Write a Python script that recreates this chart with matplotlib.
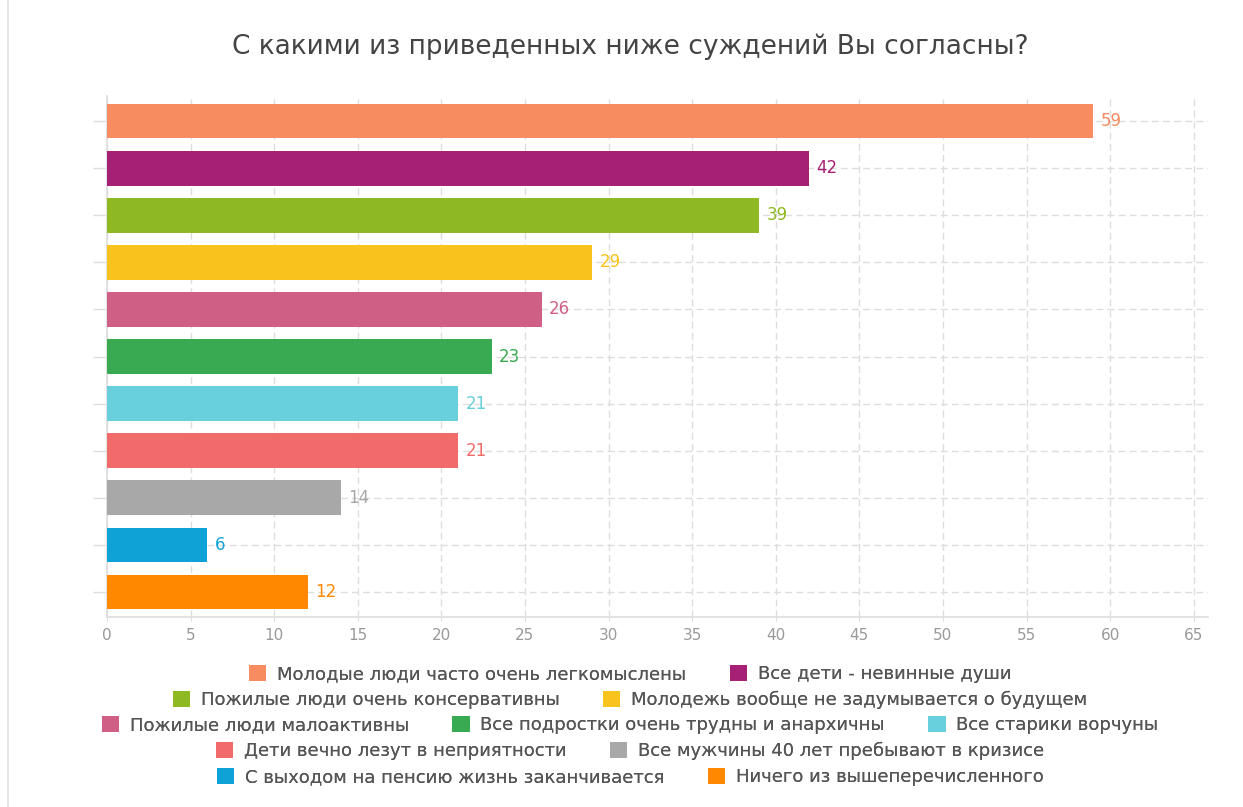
import matplotlib
matplotlib.use('Agg')
import matplotlib.pyplot as plt
from matplotlib.patches import Patch
from matplotlib.lines import Line2D

# survey answers, top to bottom
labels = ['Молодые люди часто очень легкомыслены',
          'Все дети - невинные души',
          'Пожилые люди очень консервативны',
          'Молодежь вообще не задумывается о будущем',
          'Пожилые люди малоактивны',
          'Все подростки очень трудны и анархичны',
          'Все старики ворчуны',
          'Дети вечно лезут в неприятности',
          'Все мужчины 40 лет пребывают в кризисе',
          'С выходом на пенсию жизнь заканчивается',
          'Ничего из вышеперечисленного']
values = [59, 42, 39, 29, 26, 23, 21, 21, 14, 6, 12]
colors = ['#F68C5F', '#A62176', '#8FB923', '#F9C31E', '#D05F86', '#3AAA52',
          '#67D0DC', '#F26B6B', '#A8A8A8', '#0FA2D6', '#FF8800']
xticks = list(range(0, 66, 5))
legend_rows = [[0, 1], [2, 3], [4, 5, 6], [7, 8], [9, 10]]

plt.rcParams['font.family'] = 'DejaVu Sans'

fig = plt.figure(figsize=(12.43, 8.07), dpi=100)
ax = fig.add_axes([0.0861, 0.2354, 0.8857, 0.6456])

ypos = list(range(len(values)))
ax.barh(ypos, values, height=0.74, color=colors, zorder=3)
for y, v, c in zip(ypos, values, colors):
    ax.text(v + 0.45, y, str(v), color=c, va='center', ha='left', fontsize=12, zorder=4)

ax.set_xlim(0, 65.85)
ax.set_ylim(10.53, -0.53)
ax.set_xticks(xticks)
ax.set_yticks(ypos)
ax.set_yticklabels([])
ax.tick_params(axis='x', colors='#dddddd', labelcolor='#999999', labelsize=11, length=3, pad=5)
ax.tick_params(axis='y', colors='#dddddd', length=10, width=1)
ax.grid(True, color='#dddddd', linestyle=(0, (5, 3)), linewidth=1, zorder=0)
for s in ['top', 'right']:
    ax.spines[s].set_visible(False)
for s in ['left', 'bottom']:
    ax.spines[s].set_color('#dddddd')
    ax.spines[s].set_linewidth(1.2)

fig.text(0.507, 0.942, 'С какими из приведенных ниже суждений Вы согласны?',
         ha='center', va='center', fontsize=19, color='#444444')

# page border on the left
fig.add_artist(Line2D([0.0065, 0.0065], [0, 1], color='#e2e2e2', linewidth=1.2))

row_y = [674, 700, 725, 751, 777]
for row, yy in zip(legend_rows, row_y):
    handles = [Patch(facecolor=colors[i], edgecolor='none') for i in row]
    leg = fig.legend(handles, [labels[i] for i in row], loc='center',
                     bbox_to_anchor=(0.507, 1 - yy / 807), ncol=len(row), frameon=False,
                     fontsize=13, handlelength=0.95, handleheight=0.95, handletextpad=0.6,
                     columnspacing=2.4, labelcolor='#555555', borderpad=0.1)
    fig.add_artist(leg)

fig.savefig('out.png', dpi=100)
